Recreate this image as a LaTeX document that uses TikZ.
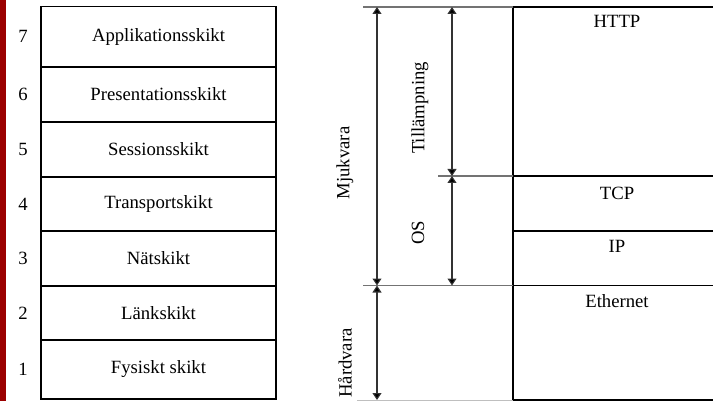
\documentclass[tikz,border=0pt]{standalone}
\usepackage{fontspec}
\setmainfont{Liberation Serif}
\usetikzlibrary{arrows.meta}
\definecolor{strip}{RGB}{155,0,0}
\begin{document}
\begin{tikzpicture}[x=1pt,y=-1pt,
  txt/.style={font=\fontsize{18.7}{20}\selectfont,inner sep=0pt},
  layer/.style={txt,draw=black,line width=1.7pt,minimum width=235pt,outer sep=0pt},
  guide/.style={draw=black!55,line width=1.1pt},
  faint/.style={draw=black!25,line width=1pt},
  box/.style={draw=black,line width=1.7pt},
  dim/.style={draw=black!80,line width=1.1pt,{Triangle[length=7pt,width=9pt,fill=black]}-{Triangle[length=7pt,width=9pt,fill=black]}}]
\useasboundingbox (0,0) rectangle (713,401);
\fill[strip] (0,0) rectangle (6,401);
% OSI stack
\node[layer,minimum height=60.5pt] (L7) at (158.5,36.75) {Applikationsskikt};
\node[layer,minimum height=55pt] (L6) at (158.5,94.5) {Presentationsskikt};
\node[layer,minimum height=55pt] (L5) at (158.5,149.5) {Sessionsskikt};
\node[layer,minimum height=54pt] (L4) at (158.5,204) {Transportskikt};
\node[layer,minimum height=55pt] (L3) at (158.5,258.5) {Nätskikt};
\node[layer,minimum height=54pt] (L2) at (158.5,313) {Länkskikt};
\node[layer,minimum height=59pt] (L1) at (158.5,369.5) {Fysiskt skikt};
\node[txt] (n7) at (23,36.75) {7};
\node[txt] (n6) at (23,94.5) {6};
\node[txt] (n5) at (23,149.5) {5};
\node[txt] (n4) at (23,204) {4};
\node[txt] (n3) at (23,258.5) {3};
\node[txt] (n2) at (23,313) {2};
\node[txt] (n1) at (23,369.5) {1};
% TCP/IP stack
\draw[box] (513,7) rectangle (735,400);
\coordinate (bTCP) at (513,176);
\coordinate (bIP) at (513,231);
\coordinate (bEth) at (513,285.5);
\draw[box] (bTCP) -- ++(222,0);
\draw[box] (bIP) -- ++(222,0);
\draw[box] (bEth) -- ++(222,0);
\node[txt,anchor=base] (http) at (617,28) {HTTP};
\node[txt,anchor=base] (tcp) at (617,199.5) {TCP};
\node[txt,anchor=base] (ip) at (617,252) {IP};
\node[txt,anchor=base] (eth) at (617,307) {Ethernet};
% guide lines
\coordinate (gTop) at (363,7);
\coordinate (bTop) at (513,7);
\coordinate (gApp) at (438,176);
\coordinate (gHw) at (363,285.5);
\coordinate (gBot) at (357,400);
\coordinate (bBot) at (513,400);
\draw[guide] (gTop) -- (bTop);
\draw[guide] (gApp) -- (bTCP);
\draw[guide] (gHw) -- (bEth);
\draw[faint] (gBot) -- (bBot);
% dimension arrows
\coordinate (m1) at (377,7);
\coordinate (m2) at (377,285.5);
\coordinate (m3) at (377,400);
\coordinate (t1) at (452,7);
\coordinate (t2) at (452,176);
\coordinate (t3) at (452,285.5);
\draw[dim] (m1) -- (m2);
\draw[dim] (m2) -- (m3);
\draw[dim] (t1) -- (t2);
\draw[dim] (t2) -- (t3);
\node[txt,rotate=90] (mjuk) at (345,163) {Mjukvara};
\node[txt,rotate=90] (hard) at (345,363) {Hårdvara};
\node[txt,rotate=90] (till) at (420,108) {Tillämpning};
\node[txt,rotate=90] (os) at (418,233) {OS};
\end{tikzpicture}
\end{document}
